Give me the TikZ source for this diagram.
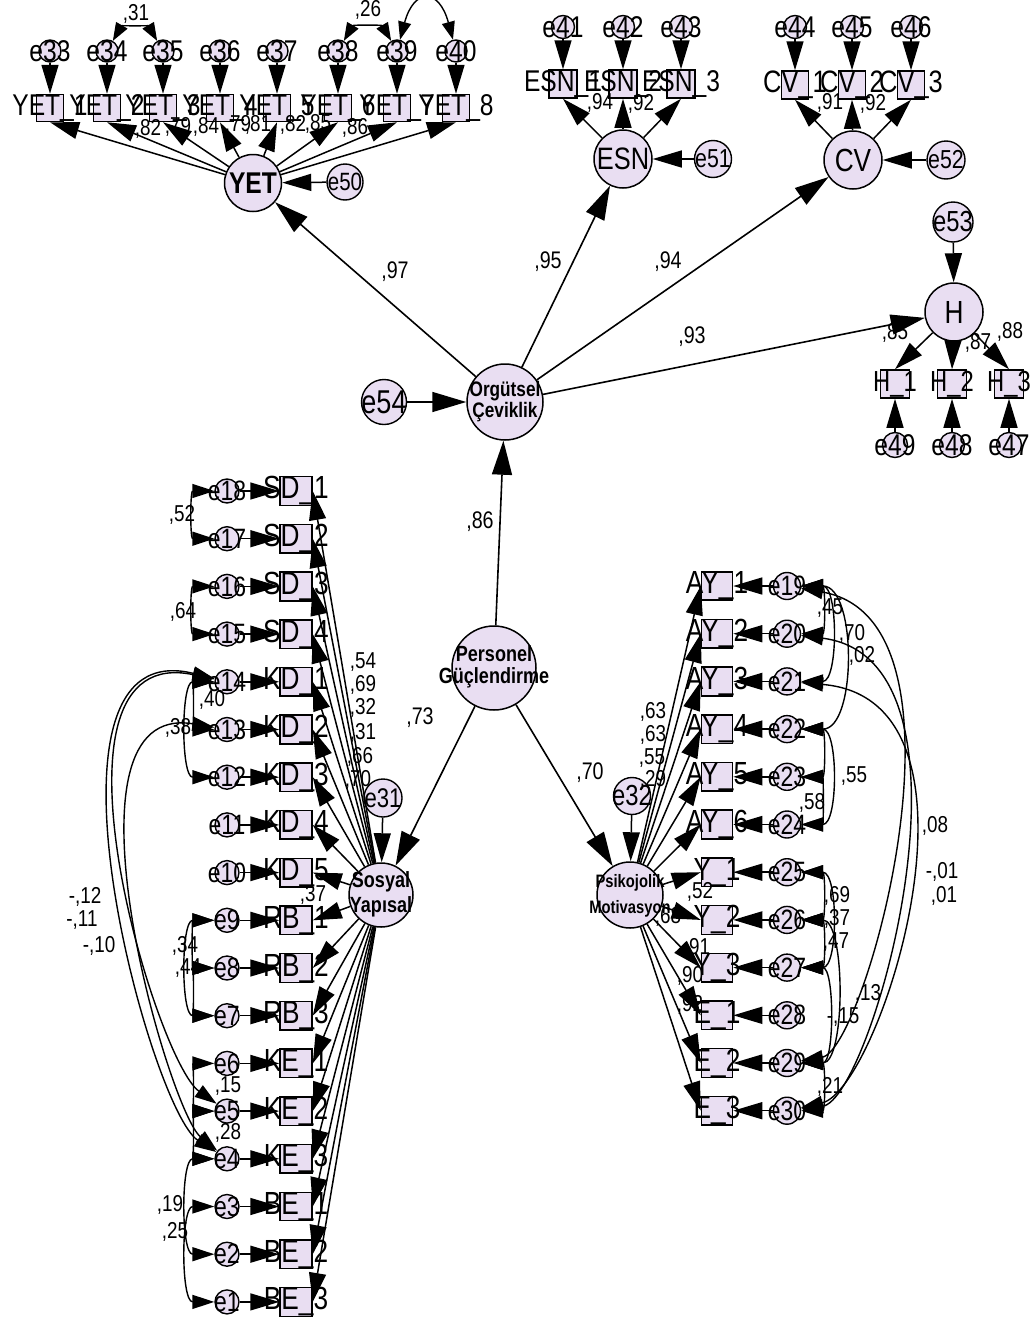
\documentclass[tikz,border=0pt]{standalone}
\usepackage{fontspec}
\setmainfont{Liberation Sans}[FakeStretch=0.82]
\usetikzlibrary{arrows.meta}
\definecolor{lav}{RGB}{233,222,242}
\newcommand\fsz[1]{\fontsize{#1}{#1}\selectfont}
\newcommand\zb[1]{\makebox[0pt]{#1}}
\newcommand\twol[4]{\zb{\fontsize{#1}{#2}\selectfont\bfseries\begin{tabular}{@{}c@{}}#3\\#4\end{tabular}}}
\begin{document}
\begin{tikzpicture}[x=1pt,y=1pt,
 lat/.style={circle,draw,line width=1.5pt,fill=lav,inner sep=0pt},
 err/.style={circle,draw,line width=1.4pt,fill=lav,inner sep=0pt},
 obs/.style={rectangle,draw,line width=1.5pt,fill=lav,inner sep=0pt},
 ar/.style={line width=1.5pt,-{Triangle[length=29pt,width=17pt]}},
 arbig/.style={line width=1.6pt,-{Triangle[length=34pt,width=20pt]}},
 cov/.style={line width=1.4pt,{Triangle[length=22pt,width=14pt]}-{Triangle[length=22pt,width=14pt]}},
 scov/.style={line width=1.4pt,{Triangle[length=18pt,width=13pt]}-{Triangle[length=18pt,width=13pt]}},
 num/.style={inner sep=0pt,font=\fsz{24}},
 snum/.style={inner sep=0pt,font=\fsz{23}}]

\useasboundingbox (0,0) rectangle (1035,-1325);
\fill[white] (0,0) rectangle (1035,-1325);

% ---------- latent variables and their disturbances
\node[lat,minimum size=57pt] (YET) at (253,-183) {\zb{\fsz{30}\bfseries YET}};
\node[err,minimum size=36pt] (e50) at (345,-182) {\zb{\fsz{25}e50}};
\node[lat,minimum size=58pt] (ESN) at (623,-159) {\zb{\fsz{31}ESN}};
\node[err,minimum size=37pt] (e51) at (713,-159) {\zb{\fsz{26}e51}};
\node[lat,minimum size=58pt] (CV) at (853,-160) {\zb{\fsz{32}CV}};
\node[err,minimum size=38pt] (e52) at (946,-160) {\zb{\fsz{26}e52}};
\node[err,minimum size=40pt] (e53) at (953,-222) {\zb{\fsz{29}e53}};
\node[lat,minimum size=58pt] (H) at (954,-312) {\zb{\fsz{32}H}};
\node[lat,minimum size=76pt] (Org) at (505,-402) {\twol{21}{20}{Orgütsel}{Çeviklik}};
\node[err,minimum size=45pt] (e54) at (384,-402) {\zb{\fsz{33}e54}};
\node[lat,minimum size=84pt] (PG) at (494,-668) {\twol{22}{22}{Personel}{Güçlendirme}};
\node[lat,minimum size=64pt] (Sos) at (381,-895) {\twol{22}{25}{Sosyal}{Yapısal}};
\node[err,minimum size=38pt] (e31) at (383,-798) {\zb{\fsz{27}e31}};
\node[lat,minimum size=66pt] (Psi) at (630,-895) {\twol{18}{26}{Psikojolik}{Motivasyon}};
\node[err,minimum size=37pt] (e32) at (632,-796) {\zb{\fsz{29}e32}};

% ---------- YET indicators
\foreach \x/\n [count=\k] in {50/33,107/34,163/35,220/36,277/37,338/38,397/39,456/40}{
  \node[err,minimum size=22pt] (e\n) at (\x,-51) {\zb{\fsz{30}e\n}};
  \node[obs,minimum width=27pt,minimum height=27pt] (yet\k) at (\x,-108) {\zb{\fsz{30}YET\_\k}};
}
% ---------- ESN indicators
\foreach \x/\n [count=\k] in {563/41,623/42,681/43}{
  \node[err,minimum size=23pt] (e\n) at (\x,-27) {\zb{\fsz{30}e\n}};
  \node[obs,minimum width=28pt,minimum height=28pt] (esn\k) at (\x,-84) {\zb{\fsz{30}ESN\_\k}};
}
% ---------- CV indicators
\foreach \x/\n [count=\k] in {795/44,852/45,911/46}{
  \node[err,minimum size=23pt] (e\n) at (\x,-27) {\zb{\fsz{30}e\n}};
  \node[obs,minimum width=27pt,minimum height=28pt] (cv\k) at (\x,-85) {\zb{\fsz{31}CV\_\k}};
}
% ---------- H indicators
\foreach \x/\n [count=\k] in {895/49,952/48,1009/47}{
  \node[obs,minimum width=29pt,minimum height=28pt] (h\k) at (\x,-384) {\zb{\fsz{29}H\_\k}};
  \node[err,minimum size=25pt] (e\n) at (\x,-445) {\zb{\fsz{30}e\n}};
}
% ---------- left column (Sosyal Yapisal)
\foreach \p/\q [count=\k] in {SD/1,SD/2,SD/3,SD/4,KD/1,KD/2,KD/3,KD/4,KD/5,RB/1,RB/2,RB/3,KE/1,KE/2,KE/3,BE/1,BE/2,BE/3}{
  \pgfmathsetmacro{\yy}{-491-(\k-1)*47.7}
  \pgfmathtruncatemacro{\en}{19-\k}
  \node[obs,minimum width=32pt,minimum height=27pt] (L\k) at (296,\yy) {\zb{\fsz{32}\p\_\q}};
  \node[err,minimum size=24pt] (eL\k) at (227,\yy) {\zb{\fsz{28}e\en}};
}
% ---------- right column (Psikojolik Motivasyon)
\foreach \p/\q [count=\k] in {AY/1,AY/2,AY/3,AY/4,AY/5,AY/6,Y/1,Y/2,Y/3,E/1,E/2,E/3}{
  \pgfmathsetmacro{\yy}{-586-(\k-1)*47.7}
  \pgfmathtruncatemacro{\en}{18+\k}
  \node[obs,minimum width=31pt,minimum height=28pt] (R\k) at (717,\yy) {\zb{\fsz{32}\p\_\q}};
  \node[err,minimum size=27pt] (eR\k) at (787,\yy) {\zb{\fsz{28}e\en}};
}

% ---------- structural paths
\draw[arbig] (Org) -- (YET);
\draw[arbig] (Org) -- (ESN);
\draw[arbig] (Org) -- (CV);
\draw[arbig] (Org) -- (H);
\draw[arbig] (PG) -- (Org);
\draw[arbig] (PG) -- (Sos);
\draw[arbig] (PG) -- (Psi);
\draw[arbig] (e54) -- (Org);
\draw[ar] (e50) -- (YET);
\draw[ar] (e51) -- (ESN);
\draw[ar] (e52) -- (CV);
\draw[ar] (e53) -- (H);
\draw[ar] (e31) -- (Sos);
\draw[ar] (e32) -- (Psi);

% ---------- measurement paths
\foreach \n [count=\k] in {33,34,35,36,37,38,39,40}{
  \draw[ar] (e\n) -- (yet\k);
  \draw[ar] (YET) -- (yet\k.south);
}
\foreach \n [count=\k] in {41,42,43}{
  \draw[ar] (e\n) -- (esn\k);
  \draw[ar] (ESN) -- (esn\k.south);
}
\foreach \n [count=\k] in {44,45,46}{
  \draw[ar] (e\n) -- (cv\k);
  \draw[ar] (CV) -- (cv\k.south);
}
\foreach \n [count=\k] in {49,48,47}{
  \draw[ar] (e\n) -- (h\k);
  \draw[ar] (H) -- (h\k.north);
}
\foreach \k in {1,...,18}{
  \draw[ar] (eL\k) -- (L\k);
  \draw[ar] (Sos) -- (L\k.east);
}
\foreach \k in {1,...,12}{
  \draw[ar] (eR\k) -- (R\k);
  \draw[ar] (Psi) -- (R\k.west);
}

% ---------- covariances (top)
\draw[scov] (e34) to[out=60,in=120] (e35);
\draw[scov] (e38) to[out=60,in=120] (e39);
\draw[scov] (e39) to[out=75,in=105,looseness=2.6] (e40);

% ---------- covariances (left)
\draw[cov] (eL1) to[out=180,in=180,looseness=1.3] (eL2);
\draw[cov] (eL3) to[out=180,in=180,looseness=1.3] (eL4);
\draw[cov] (eL5) to[out=180,in=180,looseness=1.1] (eL6);
\draw[cov] (eL5) to[out=180,in=180,looseness=0.9] (eL7);
\draw[cov] (eL10) to[out=180,in=180,looseness=1.2] (eL11);
\draw[cov] (eL10) to[out=180,in=180,looseness=0.9] (eL12);
\draw[cov] (eL11) to[out=180,in=180,looseness=1.1] (eL12);
\draw[cov] (eL13) to[out=180,in=180,looseness=1.1] (eL14);
\draw[cov] (eL14) to[out=180,in=180,looseness=1.1] (eL15);
\draw[cov] (eL15) to[out=180,in=180,looseness=0.9] (eL17);
\draw[cov] (eL16) to[out=180,in=180,looseness=0.9] (eL18);
\draw[cov] (eL5) .. controls (30,-640) and (155,-1060) .. (eL14);
\draw[cov] (eL5) .. controls (20,-630) and (150,-1110) .. (eL15);
\draw[cov] (eL6) .. controls (50,-700) and (168,-1110) .. (eL15);

% ---------- covariances (right)
\draw[cov] (eR1) to[out=0,in=0,looseness=1.3] (eR2);
\draw[cov] (eR1) to[out=0,in=0,looseness=1] (eR3);
\draw[cov] (eR1) to[out=0,in=0,looseness=1] (eR4);
\draw[cov] (eR4) to[out=0,in=0,looseness=1.3] (eR5);
\draw[cov] (eR4) to[out=0,in=0,looseness=1] (eR6);
\draw[cov] (eR5) to[out=0,in=0,looseness=1.2] (eR6);
\draw[cov] (eR7) to[out=0,in=0,looseness=1.3] (eR8);
\draw[cov] (eR7) to[out=0,in=0,looseness=1] (eR9);
\draw[cov] (eR8) to[out=0,in=0,looseness=1.3] (eR9);
\draw[cov] (eR8) to[out=0,in=0,looseness=0.8] (eR11);
\draw[cov] (eR9) to[out=0,in=0,looseness=0.9] (eR11);
\draw[cov] (eR11) to[out=0,in=0,looseness=1.3] (eR12);
\draw[cov] (eR1) .. controls (985,-620) and (865,-1050) .. (eR11);
\draw[cov] (eR2) .. controls (995,-660) and (872,-1100) .. (eR12);
\draw[cov] (eR3) .. controls (1005,-700) and (880,-1090) .. (eR12);

% ---------- coefficient labels
\foreach \x/\y/\t [count=\i] in {395/-272/{,97},548/-262/{,95},668/-262/{,94},692/-337/{,93},480/-522/{,86},420/-718/{,73},590/-773/{,70}}{
  \node[num] (m\i) at (\x,\y) {\t};
}
\foreach \x/\y/\t [count=\i] in {148/-129/{,82},178/-127/{,79},206/-127/{,84},238/-125/{,79},258/-125/{,81},293/-125/{,82},318/-124/{,85},355/-128/{,86},
 136/-14/{,31},368/-10/{,26},600/-103/{,94},641/-104/{,92},830/-103/{,91},873/-104/{,92},
 895/-333/{,85},978/-343/{,87},1010/-332/{,88},
 363/-662/{,54},363/-685/{,69},363/-708/{,32},363/-733/{,31},360/-757/{,66},358/-780/{,70},313/-895/{,37},
 653/-712/{,63},653/-735/{,63},652/-758/{,55},653/-780/{,29},700/-892/{,52},668/-917/{,68},697/-948/{,91},690/-976/{,90},690/-1005/{,92},
 182/-515/{,52},183/-612/{,64},212/-700/{,40},178/-728/{,38},85/-897/{-,12},82/-920/{-,11},99/-946/{-,10},185/-946/{,34},188/-968/{,44},228/-1086/{,15},228/-1133/{,28},170/-1205/{,19},175/-1232/{,25},
 830/-608/{,45},852/-634/{,70},862/-656/{,02},854/-776/{,55},812/-803/{,58},935/-826/{,08},942/-872/{-,01},944/-896/{,01},837/-896/{,69},837/-919/{,37},836/-942/{,47},868/-994/{,13},843/-1017/{-,15},830/-1087/{,21}}{
  \node[snum] (s\i) at (\x,\y) {\t};
}
\end{tikzpicture}
\end{document}
